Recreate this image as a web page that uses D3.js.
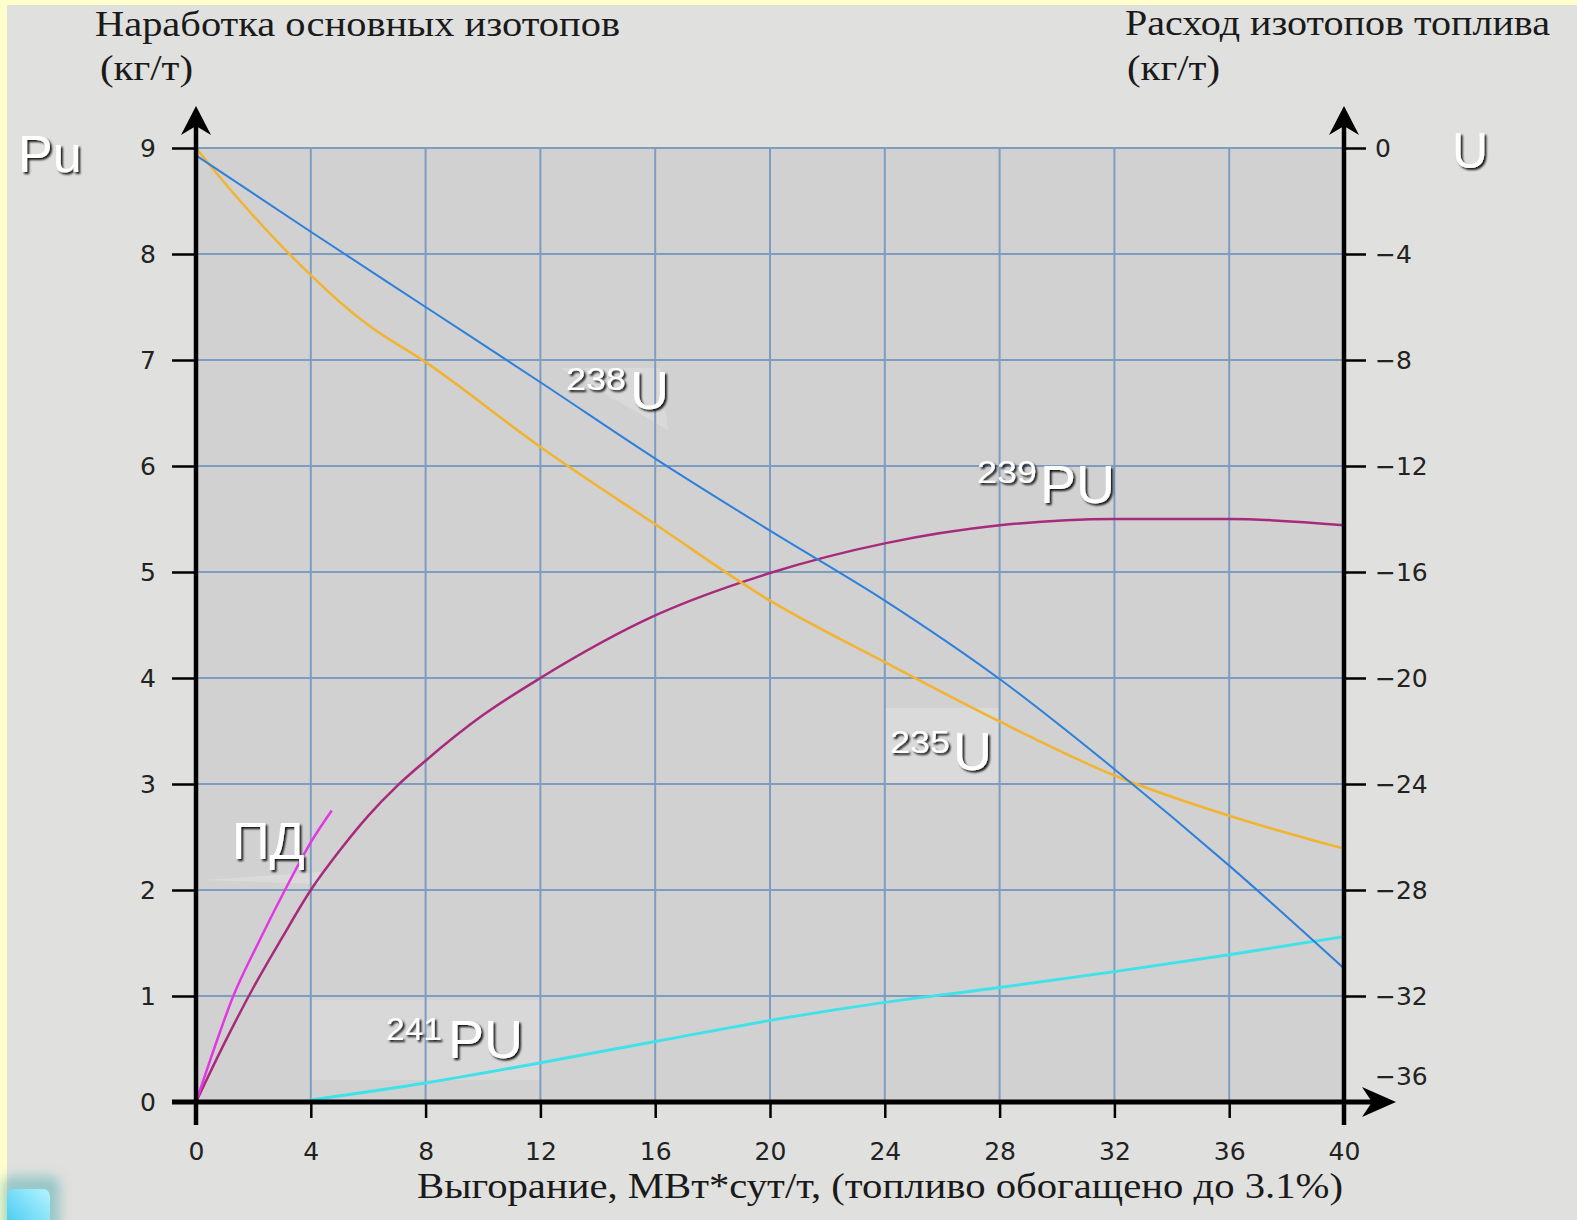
<!DOCTYPE html>
<html>
<head>
<meta charset="utf-8">
<script src="https://cdn.jsdelivr.net/npm/d3@7"></script>
<style>
  html, body { margin: 0; padding: 0; background: #e0e0de; overflow: hidden; }
  svg { display: block; }
</style>
</head>
<body>
<script>
// burnup (x) and isotope values
var xTicks = [0, 4, 8, 12, 16, 20, 24, 28, 32, 36, 40]
var leftTicks = [0, 1, 2, 3, 4, 5, 6, 7, 8, 9]
var rightTicks = [0, -4, -8, -12, -16, -20, -24, -28, -32]

// uranium consumption, right axis (kg/t)
var u238X = [0, 4, 8, 12, 16, 20, 24, 28, 32, 36, 40]
var u238 = [-0.28, -3.16, -6.0, -8.84, -11.72, -14.44, -17.08, -20.04, -23.44, -27.08, -30.96]
var u235X = [0, 1, 2, 3, 4, 5, 6, 8, 12, 16, 20, 24, 28, 32, 36, 40]
var u235 = [0, -1.32, -2.56, -3.72, -4.8, -5.8, -6.68, -8.08, -11.28, -14.2, -17.08, -19.4, -21.64, -23.68, -25.2, -26.44]

// plutonium build-up, left axis (kg/t)
var pu239X = [0, 1, 2, 3, 4, 5, 6, 7, 8, 10, 12, 16, 20, 24, 28, 32, 36, 40]
var pu239 = [0, 0.56, 1.08, 1.55, 2.0, 2.37, 2.7, 2.98, 3.22, 3.65, 4.0, 4.59, 4.99, 5.27, 5.44, 5.5, 5.5, 5.44]
var pu241X = [4, 8, 12, 16, 20, 24, 28, 32, 36, 40]
var pu241 = [0.02, 0.18, 0.37, 0.57, 0.77, 0.94, 1.08, 1.23, 1.39, 1.56]
var pdX = [0, 0.55, 1.3, 2.17, 3.1, 4, 4.73]
var pd = [0, 0.44, 1.0, 1.5, 2.0, 2.45, 2.75]

var W = 1577, H = 1220

var svg = d3.select("body").append("svg")
  .attr("width", W).attr("height", H)

var defs = svg.append("defs")
var sh = defs.append("filter").attr("id", "shadow")
  .attr("x", "-20%").attr("y", "-20%").attr("width", "150%").attr("height", "150%")
sh.append("feDropShadow").attr("dx", 2).attr("dy", 2)
  .attr("stdDeviation", 0.8).attr("flood-color", "#000").attr("flood-opacity", 0.9)

var glow = defs.append("filter").attr("id", "glow")
  .attr("x", "-50%").attr("y", "-50%").attr("width", "200%").attr("height", "200%")
glow.append("feGaussianBlur").attr("stdDeviation", 6)

var grad = defs.append("linearGradient").attr("id", "btn")
  .attr("x1", 1).attr("y1", 0).attr("x2", 0).attr("y2", 1)
grad.append("stop").attr("offset", 0).attr("stop-color", "#b4f4ff")
grad.append("stop").attr("offset", 1).attr("stop-color", "#38c4f0")

// page background + yellow frame
svg.append("rect").attr("width", W).attr("height", H).attr("fill", "#e0e0de")
svg.append("rect").attr("width", W).attr("height", 5).attr("fill", "#ffffcc")
svg.append("rect").attr("width", 7).attr("height", H).attr("fill", "#ffffcc")

var x = d3.scaleLinear().domain([0, 40]).range([196, 1344])
var yL = d3.scaleLinear().domain([0, 9]).range([1102, 148])
var yR = d3.scaleLinear().domain([-36, 0]).range([1102, 148])

// plot area
svg.append("rect")
  .attr("x", x(0)).attr("y", yL(9))
  .attr("width", x(40) - x(0)).attr("height", yL(0) - yL(9))
  .attr("fill", "#d1d1d1")

// lighter patches behind labels
svg.append("rect").attr("x", x(24)).attr("y", 708).attr("width", x(28) - x(24)).attr("height", 77)
  .attr("fill", "#dadada")
svg.append("rect").attr("x", x(4)).attr("y", 1000).attr("width", x(12) - x(4)).attr("height", 80)
  .attr("fill", "#d8d8d8")
svg.append("path").attr("d", "M560,368 L660,368 L668,430 Z").attr("fill", "#d9d9d9")
svg.append("path").attr("d", "M205,880 L320,872 L320,884 Z").attr("fill", "#dadada")

// grid
var grid = svg.append("g").attr("stroke", "#7d9dc0").attr("stroke-width", 2)
grid.selectAll("line.v").data(xTicks.filter(function(d){ return d > 0 && d < 40 }))
  .enter().append("line")
  .attr("x1", function(d){ return x(d) }).attr("x2", function(d){ return x(d) })
  .attr("y1", yL(9)).attr("y2", yL(0))
grid.selectAll("line.h").data(leftTicks.filter(function(d){ return d > 0 }))
  .enter().append("line")
  .attr("x1", x(0)).attr("x2", x(40))
  .attr("y1", function(d){ return yL(d) }).attr("y2", function(d){ return yL(d) })

// curves
function curve(xs, ys, scale, color, w) {
  var pts = xs.map(function(v, i){ return [v, ys[i]] })
  svg.append("path").datum(pts)
    .attr("fill", "none").attr("stroke", color).attr("stroke-width", w)
    .attr("d", d3.line()
      .x(function(d){ return x(d[0]) })
      .y(function(d){ return scale(d[1]) })
      .curve(d3.curveMonotoneX))
}
curve(pu241X, pu241, yL, "#40e2ea", 3)
curve(pu239X, pu239, yL, "#a82a7c", 2.5)
curve(pdX, pd, yL, "#e238e4", 2.5)
curve(u235X, u235, yR, "#f2b430", 2.5)
curve(u238X, u238, yR, "#2f80dc", 2)

// axes
var tickFont = "'DejaVu Sans', sans-serif"
var gL = svg.append("g").attr("transform", "translate(" + x(0) + ",0)")
  .call(d3.axisLeft(yL).tickValues(leftTicks).tickSize(24).tickPadding(16))
var gB = svg.append("g").attr("transform", "translate(0," + yL(0) + ")")
  .call(d3.axisBottom(x).tickValues(xTicks).tickSize(16).tickPadding(24))
var gR = svg.append("g").attr("transform", "translate(" + x(40) + ",0)")
  .call(d3.axisRight(yR).tickValues(rightTicks).tickSize(22).tickPadding(9)
    .tickFormat(function(d){ return d3.format("")(d).replace("-", "\u2212") }))

;[gL, gB, gR].forEach(function(g){
  g.select(".domain").remove()
  g.selectAll(".tick line").attr("stroke", "#000").attr("stroke-width", 2.5)
  g.selectAll(".tick text").attr("fill", "#222")
    .style("font-family", tickFont).style("font-size", "25px")
})
gB.selectAll(".tick").filter(function(d){ return d === 0 || d === 40 }).select("line").remove()

svg.append("text").attr("x", x(40) + 31).attr("y", 1077).attr("dy", "0.32em")
  .attr("fill", "#222").style("font-family", tickFont).style("font-size", "25px")
  .text("\u221236")

var axes = svg.append("g").attr("stroke", "#000").attr("fill", "none")
axes.append("line").attr("x1", x(0)).attr("x2", x(0)).attr("y1", 1125).attr("y2", 112).attr("stroke-width", 4.5)
axes.append("line").attr("x1", x(40)).attr("x2", x(40)).attr("y1", 1125).attr("y2", 112).attr("stroke-width", 4.5)
axes.append("line").attr("x1", 172).attr("x2", 1388).attr("y1", yL(0)).attr("y2", yL(0)).attr("stroke-width", 5)

function upArrow(cx) {
  svg.append("path").attr("fill", "#000")
    .attr("d", "M" + cx + ",106 L" + (cx + 15) + ",135 L" + cx + ",126 L" + (cx - 15) + ",135 Z")
}
upArrow(x(0))
upArrow(x(40))
var ay = yL(0)
svg.append("path").attr("fill", "#000")
  .attr("d", "M1396," + ay + " L1362," + (ay + 15) + " L1372," + ay + " L1362," + (ay - 15) + " Z")

// axis titles
var serif = "'Liberation Serif', 'Times New Roman', serif"
function title(t, tx, ty, len) {
  svg.append("text").attr("x", tx).attr("y", ty)
    .attr("textLength", len).attr("lengthAdjust", "spacingAndGlyphs")
    .attr("fill", "#1a1a1a").style("font-family", serif).style("font-size", "35px")
    .text(t)
}
title("Наработка основных изотопов", 95, 36, 525)
title("(кг/т)", 100, 80, 93)
title("Расход изотопов топлива", 1125, 35, 425)
title("(кг/т)", 1127, 80, 93)
title("Выгорание, МВт*сут/т, (топливо обогащено до 3.1%)", 417, 1198, 926)

// white shadowed labels
var sans = "'Liberation Sans', Arial, sans-serif"
function label(t, lx, ly, size, len) {
  var el = svg.append("text").attr("x", lx).attr("y", ly)
    .attr("fill", "#fff").attr("filter", "url(#shadow)")
    .style("font-family", sans).style("font-size", size + "px")
    .text(t)
  if (len) el.attr("textLength", len).attr("lengthAdjust", "spacingAndGlyphs")
}
label("238", 566, 390, 31, 60)
label("U", 630, 409, 54)
label("239", 977, 483, 31, 60)
label("PU", 1040, 503, 54)
label("235", 890, 753, 31, 60)
label("U", 953, 770, 54)
label("241", 386, 1040, 31, 56)
label("PU", 448, 1058, 54)
label("ПД", 232, 859, 52)
label("Pu", 18, 172, 52)
label("U", 1452, 168, 50)

// little button bottom-left
svg.append("rect").attr("x", 2).attr("y", 1176).attr("width", 58).attr("height", 60).attr("rx", 10)
  .attr("fill", "#5fb2b4").attr("opacity", 0.55).attr("filter", "url(#glow)")
svg.append("rect").attr("x", 7).attr("y", 1189).attr("width", 43).attr("height", 50).attr("rx", 7)
  .attr("fill", "url(#btn)")
</script>
</body>
</html>
